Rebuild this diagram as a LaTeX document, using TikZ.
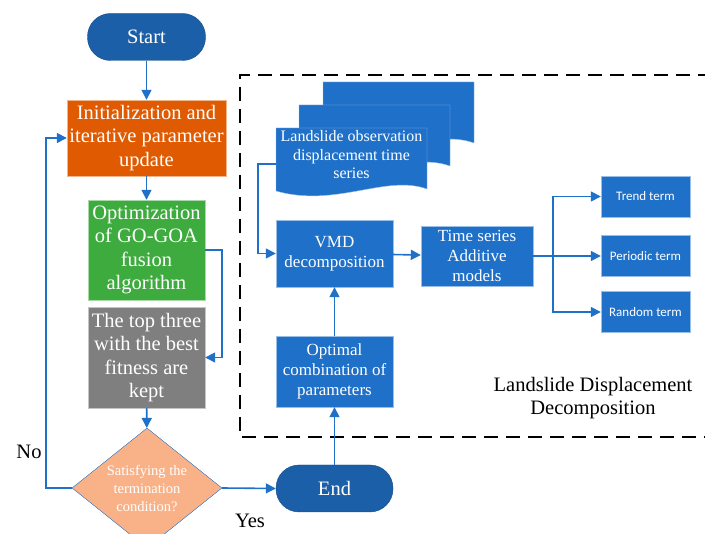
\documentclass[tikz,border=0pt]{standalone}
\usepackage{fontspec}
\setmainfont{Liberation Serif}
\newfontfamily\termfont{Carlito}
\usetikzlibrary{shapes.geometric,arrows.meta,positioning,calc}
\definecolor{blockblue}{HTML}{1F70C8}
\definecolor{capblue}{HTML}{1B5FA8}
\definecolor{initorange}{HTML}{DF5A00}
\definecolor{fusiongreen}{HTML}{3EAB3E}
\definecolor{keptgray}{HTML}{7F7F7F}
\definecolor{checksalmon}{HTML}{F9B187}
\tikzset{
    terminal/.style={
        rectangle,
        rounded corners=23pt,     % extremos redondeados (forma de cápsula)
        fill=capblue,
        draw=capblue!80!black,
        text=white,
        minimum width=#1,
        minimum height=47pt,
        font=\fontsize{20.5}{24}\selectfont
    },
    stepbox/.style={
        rectangle,
        fill=#1,
        draw=white!55!#1,         % borde fino y claro
        text=white,
        align=center,
        inner sep=1pt
    },
    decision/.style={
        diamond,
        fill=checksalmon,
        draw=blockblue,
        text=white,
        aspect=1.25,
        minimum width=150pt,
        minimum height=120pt,
        inner sep=0pt,
        align=center,
        font=\fontsize{14.5}{18}\selectfont
    },
    termbox/.style={
        stepbox=blockblue,
        minimum width=89pt,
        minimum height=41pt,
        font=\termfont\fontsize{13}{15}\selectfont
    }
}
% una hoja con borde inferior ondulado (esquina superior izquierda en #1,#2)
\newcommand{\obspage}[2]{%
    \filldraw[blockblue, draw=white!55!blockblue]
        (#1,#2) -- ({#1+151},#2) -- ({#1+151},{#2+61})
        .. controls ({#1+110},{#2+46}) and ({#1+60},{#2+80}) .. (#1,{#2+63}) -- cycle;}

\begin{document}
\begin{tikzpicture}[
        x=1pt, y=-1pt,
        arrow/.style={-{Triangle[length=10pt,width=10pt]}, blockblue, line width=1.6pt},
        big/.style={font=\fontsize{20.5}{23.5}\selectfont},
        mid/.style={font=\fontsize{17}{20}\selectfont}
    ]
    \useasboundingbox (0,0) rectangle (705,534);

    % --- zona de descomposición ---
    \draw[line width=2pt, dash pattern=on 14pt off 8pt]
        (712,75) -- (240,75) -- (240,437) -- (712,437);
    \node[big, align=center] (zona) at (593,398) {Landslide Displacement\\Decomposition};

    % --- optimización ---
    \node[terminal=118pt] (start) at (146.5,37) {Start};
    \node[stepbox=initorange, big, minimum width=159pt, minimum height=76pt] (init) at (146.5,138)
        {Initialization and\\iterative parameter\\update};
    \node[stepbox=fusiongreen, big, minimum width=117pt, minimum height=100pt] (fusion) at (146.5,250)
        {Optimization\\of GO-GOA\\fusion\\algorithm};
    \node[stepbox=keptgray, big, minimum width=117pt, minimum height=101pt] (kept) at (146.5,357.5)
        {The top three\\with the best\\fitness are\\kept};
    \node[decision] (check) at (147,488) {Satisfying the\\termination\\condition?};
    \node[terminal=117pt] (finish) at (334.5,488.5) {End};

    % --- descomposición ---
    \obspage{323}{82}
    \obspage{299}{105}
    \obspage{276}{128}
    \node[text=white, align=center, font=\fontsize{16}{18.5}\selectfont] (obs) at (351.5,155)
        {Landslide observation\\displacement time\\series};
    \coordinate (obsport) at (276,164);
    \node[stepbox=blockblue, mid, minimum width=117pt, minimum height=67pt] (vmd) at (334.5,253.5)
        {VMD\\decomposition};
    \node[stepbox=blockblue, mid, minimum width=117pt, minimum height=71pt] (optimal) at (334.5,371.5)
        {Optimal\\combination of\\parameters};
    \node[stepbox=blockblue, mid, minimum width=112pt, minimum height=60pt] (additive) at (477,256)
        {Time series\\Additive\\models};
    \node[termbox] (trend) at (645.5,196.5) {Trend term};
    \node[termbox] (periodic) at (645.5,256) {Periodic term};
    \node[termbox] (random) at (645.5,312) {Random term};

    % --- conexiones ---
    \draw[arrow] (start) -- (init);
    \draw[arrow] (init) -- (fusion);
    \draw[arrow] (fusion.east) -- ++(17,0) |- (kept.east);
    \draw[arrow] (kept) -- (check);
    \draw[arrow] (check.west) -- ++(-26,0) |- (init.west);
    \draw[arrow] (check.east) -- (finish.west);
    \draw[arrow] (finish) -- (optimal);
    \draw[arrow] (optimal) -- (vmd);
    \draw[arrow] (obsport) -- ++(-18,0) |- (vmd.west);
    \draw[arrow] (vmd) -- (additive);
    \draw[blockblue, line width=1.6pt] (additive.east) -- ++(20,0) coordinate (fork);
    \draw[arrow] (fork) |- (trend.west);
    \draw[arrow] (fork) -- (periodic.west);
    \draw[arrow] (fork) |- (random.west);

    \node[big] (no) at (29,452) {No};
    \node[big] (yes) at (250,521) {Yes};
\end{tikzpicture}
\end{document}
